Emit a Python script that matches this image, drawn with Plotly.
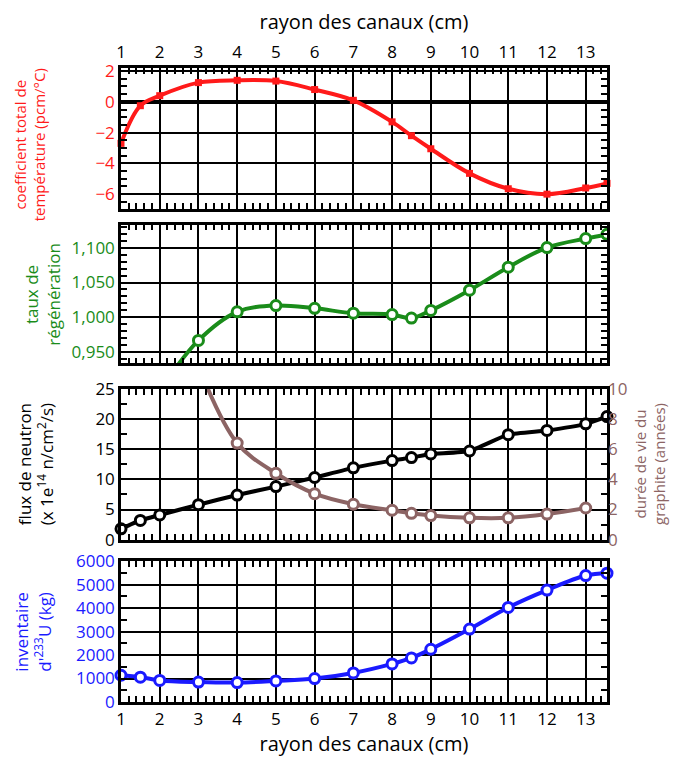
import plotly.graph_objects as go
from plotly.subplots import make_subplots

# ---------------- data ----------------
radius_coef = [1, 1.5, 2, 3, 4, 5, 6, 7, 8, 8.5, 9, 10, 11, 12, 13, 13.55]
coef_temp = [-2.7, -0.25, 0.4, 1.25, 1.4, 1.35, 0.8, 0.1, -1.3, -2.2, -3.05, -4.65, -5.65, -6.0, -5.6, -5.3]

radius_regen = [2, 3, 4, 5, 6, 7, 8, 8.5, 9, 10, 11, 12, 13, 13.55]
taux_regen = [0.895, 0.967, 1.008, 1.017, 1.013, 1.006, 1.004, 0.999, 1.010, 1.039, 1.072, 1.100, 1.113, 1.119]

radius_flux = [1, 1.5, 2, 3, 4, 5, 6, 7, 8, 8.5, 9, 10, 11, 12, 13, 13.55]
flux_neutron = [1.8, 3.2, 4.1, 5.8, 7.4, 8.8, 10.3, 11.9, 13.1, 13.6, 14.2, 14.7, 17.4, 18.1, 19.2, 20.4]

radius_life = [3, 4, 5, 6, 7, 8, 8.5, 9, 10, 11, 12, 13]
duree_vie = [11.5, 6.4, 4.4, 3.05, 2.35, 1.95, 1.75, 1.6, 1.45, 1.45, 1.7, 2.1]

radius_inv = [1, 1.5, 2, 3, 4, 5, 6, 7, 8, 8.5, 9, 10, 11, 12, 13, 13.55]
inventaire_u233 = [1140, 1060, 920, 850, 830, 900, 1000, 1240, 1625, 1880, 2250, 3110, 4030, 4770, 5390, 5490]

x_ticks = [1, 2, 3, 4, 5, 6, 7, 8, 9, 10, 11, 12, 13]
regen_tickvals = [0.95, 1.0, 1.05, 1.1]
regen_ticktext = ["0,950", "1,000", "1,050", "1,100"]

RED = "#ff1a1a"
GREEN = "#1a8c1a"
BROWN = "#8c6464"
BLUE = "#1a1aff"
BLACK = "#000000"
FONT = "Open Sans"
TICK_SIZE = 17

fig = make_subplots(rows=4, cols=1, shared_xaxes=False,
                    specs=[[{}], [{}], [{"secondary_y": True}], [{}]])

fig.add_trace(go.Scatter(x=radius_coef, y=coef_temp, mode="lines+markers",
                         line=dict(color=RED, width=4, shape="spline"),
                         marker=dict(color=RED, size=7, symbol="square"),
                         cliponaxis=False, showlegend=False), row=1, col=1)

fig.add_trace(go.Scatter(x=radius_regen, y=taux_regen, mode="lines+markers",
                         line=dict(color=GREEN, width=4, shape="spline"),
                         marker=dict(color="white", size=10, line=dict(color=GREEN, width=3)),
                         showlegend=False), row=2, col=1)

fig.add_trace(go.Scatter(x=radius_life, y=duree_vie, mode="lines+markers",
                         line=dict(color=BROWN, width=4, shape="spline"),
                         marker=dict(color="white", size=10, line=dict(color=BROWN, width=3)),
                         showlegend=False), row=3, col=1, secondary_y=True)

fig.add_trace(go.Scatter(x=radius_flux, y=flux_neutron, mode="lines+markers",
                         line=dict(color=BLACK, width=4, shape="spline", smoothing=0.5),
                         marker=dict(color="white", size=10, line=dict(color=BLACK, width=3)),
                         cliponaxis=False, showlegend=False), row=3, col=1, secondary_y=False)

fig.add_trace(go.Scatter(x=radius_inv, y=inventaire_u233, mode="lines+markers",
                         line=dict(color=BLUE, width=4, shape="spline"),
                         marker=dict(color="white", size=10, line=dict(color=BLUE, width=3)),
                         cliponaxis=False, showlegend=False), row=4, col=1)

minor_x = dict(dtick=0.2, ticks="inside", ticklen=6, tickwidth=1.5, tickcolor="black", showgrid=False)
xcommon = dict(range=[1, 13.55], tickvals=x_ticks, showgrid=True, gridcolor="black",
               gridwidth=2, showline=True, linecolor="black", linewidth=2.5,
               mirror="allticks", ticks="inside", ticklen=6, tickwidth=1.5, tickcolor="black",
               minor=minor_x, zeroline=False,
               tickfont=dict(size=TICK_SIZE, color="black", family=FONT))

domains = [[0.778, 1.0], [0.534, 0.753], [0.256, 0.494], [0.0, 0.222]]
x_title = dict(text="rayon des canaux (cm)", font=dict(size=20, family=FONT, color="black"), standoff=6)

layout_axes = {}
for i in range(4):
    xa = dict(xcommon)
    xa["domain"] = [0, 1]
    if i == 0:
        xa.update(side="top", showticklabels=True, title=x_title)
    elif i == 3:
        xa.update(showticklabels=True, title=x_title)
    else:
        xa.update(showticklabels=False)
    layout_axes["xaxis" + ("" if i == 0 else str(i + 1))] = xa

fig.update_layout(**layout_axes)


def minor_y(d):
    return dict(dtick=d, ticks="inside", ticklen=6, tickwidth=1.5, tickcolor="black")


ycommon = dict(showgrid=True, gridcolor="black", gridwidth=2, showline=True,
               linecolor="black", linewidth=2.5, ticks="inside", ticklen=6, tickwidth=1.5,
               tickcolor="black", zeroline=False)

fig.update_layout(
    yaxis=dict(ycommon, domain=domains[0], range=[-6.95, 2.2], dtick=2, mirror="allticks",
               zeroline=True, zerolinecolor="black", zerolinewidth=3.5, minor=minor_y(0.5),
               tickfont=dict(size=TICK_SIZE, color=RED, family=FONT)),
    yaxis2=dict(ycommon, domain=domains[1], range=[0.934, 1.133], tickvals=regen_tickvals,
                ticktext=regen_ticktext, mirror="allticks", minor=minor_y(0.01),
                tickfont=dict(size=TICK_SIZE, color=GREEN, family=FONT)),
    yaxis3=dict(ycommon, domain=domains[2], range=[0, 25], dtick=5, mirror=True,
                minor=minor_y(2.5),
                tickfont=dict(size=TICK_SIZE, color="black", family=FONT)),
    yaxis4=dict(domain=domains[2], range=[0, 10], dtick=2, side="right", overlaying="y3",
                showgrid=False, zeroline=False, ticks="inside", ticklen=6, tickwidth=1.5,
                tickcolor="black", showline=False, anchor="x3", minor=minor_y(1),
                tickfont=dict(size=TICK_SIZE, color=BROWN, family=FONT)),
    yaxis5=dict(ycommon, domain=domains[3], range=[0, 6000], dtick=1000, mirror="allticks",
                minor=minor_y(500),
                tickfont=dict(size=TICK_SIZE, color=BLUE, family=FONT)),
)

annot_font = dict(size=17, family=FONT)
fig.add_annotation(text="coefficient total de<br>température (pcm/°C)", xref="paper", yref="paper",
                   x=-0.188, y=sum(domains[0]) / 2 - 0.01, textangle=-90, showarrow=False,
                   xanchor="center", yanchor="middle", font=dict(size=15, family=FONT, color=RED))
fig.add_annotation(text="taux de<br>régénération", xref="paper", yref="paper",
                   x=-0.163, y=sum(domains[1]) / 2, textangle=-90, showarrow=False,
                   xanchor="center", yanchor="middle", font=dict(annot_font, color=GREEN))
fig.add_annotation(text="flux de neutron<br>(x 1e<sup>14</sup> n/cm<sup>2</sup>/s)", xref="paper", yref="paper",
                   x=-0.177, y=sum(domains[2]) / 2, textangle=-90, showarrow=False,
                   xanchor="center", yanchor="middle", font=dict(annot_font, color="black"))
fig.add_annotation(text="durée de vie du<br>graphite (années)", xref="paper", yref="paper",
                   x=1.088, y=sum(domains[2]) / 2, textangle=-90, showarrow=False,
                   xanchor="center", yanchor="middle", font=dict(size=15, family=FONT, color=BROWN))
fig.add_annotation(text="inventaire<br>d'<sup>233</sup>U (kg)", xref="paper", yref="paper",
                   x=-0.181, y=sum(domains[3]) / 2, textangle=-90, showarrow=False,
                   xanchor="center", yanchor="middle", font=dict(annot_font, color=BLUE))

fig.update_layout(width=670, height=754, margin=dict(l=113, r=71, t=56, b=58),
                  paper_bgcolor="white", plot_bgcolor="white",
                  font=dict(family=FONT, color="black"))

fig.write_html("out.html")
